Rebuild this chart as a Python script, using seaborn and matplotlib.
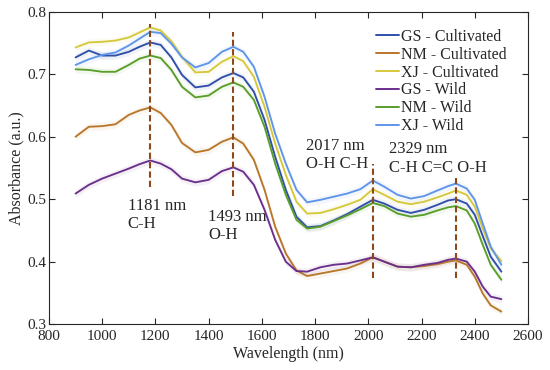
import numpy as np
import pandas as pd
import seaborn as sns
import matplotlib.pyplot as plt

# --- NIR spectra (mean absorbance) ---
wavelength = [900, 950, 1000, 1050, 1100, 1140, 1181, 1220, 1260, 1300, 1350, 1400, 1450, 1493,
              1530, 1570, 1610, 1650, 1690, 1730, 1770, 1820, 1870, 1920, 1970, 2017, 2060, 2110,
              2160, 2210, 2260, 2300, 2329, 2370, 2400, 2430, 2460, 2500]

gs_cultivated = [0.727, 0.738, 0.730, 0.730, 0.736, 0.744, 0.751, 0.747, 0.727, 0.699, 0.679, 0.682, 0.695, 0.702,
                 0.695, 0.672, 0.627, 0.568, 0.515, 0.472, 0.455, 0.457, 0.466, 0.476, 0.488, 0.499, 0.493, 0.483,
                 0.478, 0.483, 0.491, 0.498, 0.500, 0.493, 0.475, 0.441, 0.408, 0.384]
nm_cultivated = [0.600, 0.616, 0.617, 0.620, 0.635, 0.642, 0.647, 0.638, 0.619, 0.590, 0.575, 0.579, 0.592, 0.599,
                 0.589, 0.563, 0.515, 0.456, 0.413, 0.386, 0.377, 0.381, 0.385, 0.389, 0.397, 0.407, 0.400, 0.392,
                 0.391, 0.393, 0.396, 0.400, 0.402, 0.395, 0.376, 0.349, 0.330, 0.320]
xj_cultivated = [0.743, 0.751, 0.752, 0.754, 0.759, 0.767, 0.775, 0.770, 0.753, 0.728, 0.703, 0.704, 0.720, 0.729,
                 0.721, 0.696, 0.648, 0.589, 0.539, 0.496, 0.477, 0.478, 0.484, 0.491, 0.499, 0.516, 0.507, 0.496,
                 0.492, 0.496, 0.503, 0.509, 0.514, 0.507, 0.488, 0.453, 0.421, 0.401]
gs_wild = [0.509, 0.523, 0.533, 0.541, 0.549, 0.556, 0.562, 0.557, 0.548, 0.533, 0.527, 0.531, 0.545, 0.551,
           0.544, 0.523, 0.483, 0.435, 0.400, 0.385, 0.384, 0.391, 0.395, 0.397, 0.402, 0.407, 0.400, 0.392,
           0.391, 0.395, 0.398, 0.403, 0.405, 0.400, 0.384, 0.360, 0.344, 0.340]
nm_wild = [0.708, 0.707, 0.704, 0.704, 0.715, 0.725, 0.730, 0.726, 0.707, 0.680, 0.663, 0.666, 0.680, 0.687,
           0.680, 0.659, 0.616, 0.557, 0.507, 0.467, 0.453, 0.456, 0.465, 0.474, 0.484, 0.494, 0.489, 0.477,
           0.472, 0.475, 0.482, 0.487, 0.489, 0.482, 0.461, 0.427, 0.395, 0.371]
xj_wild = [0.715, 0.724, 0.731, 0.735, 0.746, 0.757, 0.768, 0.766, 0.749, 0.727, 0.711, 0.718, 0.736, 0.744,
           0.736, 0.712, 0.664, 0.605, 0.557, 0.515, 0.495, 0.499, 0.504, 0.509, 0.516, 0.530, 0.520, 0.507,
           0.501, 0.505, 0.514, 0.521, 0.525, 0.517, 0.499, 0.461, 0.424, 0.395]

labels = ["GS - Cultivated", "NM - Cultivated", "XJ - Cultivated", "GS - Wild", "NM - Wild", "XJ - Wild"]
colors = ["#2f4fa8", "#b8772a", "#d6c83c", "#6b2f8c", "#5a9e2a", "#5f95e8"]
series = [gs_cultivated, nm_cultivated, xj_cultivated, gs_wild, nm_wild, xj_wild]

# characteristic bands
band_nm = [1181, 1493, 2017, 2329]
band_low = [0.520, 0.505, 0.374, 0.374]
band_high = [0.781, 0.768, 0.556, 0.535]
band_text = ["1181 nm\nC-H", "1493 nm\nO-H", "2017 nm\nO-H C-H", "2329 nm\nC-H C=C O-H"]
text_x = [1096, 1399, 1765, 2078]
text_y = [0.502, 0.485, 0.598, 0.593]

df = pd.concat([pd.DataFrame({"Wavelength": wavelength, "Absorbance": s, "Sample": lab})
                for s, lab in zip(series, labels)], ignore_index=True)

# --- Plotting ---
sns.set_style("ticks")
plt.rcParams['font.family'] = ['Liberation Serif', 'DejaVu Serif']
plt.rcParams['lines.solid_joinstyle'] = 'round'

fig = plt.figure(figsize=(5.5, 3.7), dpi=100)
ax = fig.add_axes([0.089, 0.124, 0.871, 0.844])

# faint spread bands around each mean spectrum
for s, c in zip(series, colors):
    s = np.asarray(s)
    ax.fill_between(wavelength, s - 0.006, s + 0.006, color=c, alpha=0.07, lw=0)

sns.lineplot(data=df, x="Wavelength", y="Absorbance", hue="Sample", hue_order=labels,
             palette=colors, linewidth=1.35, sort=False, estimator=None, ax=ax)

ax.vlines(band_nm, band_low, band_high, colors="#8c4a1c", linestyles=(0, (3, 1.5)), linewidth=1.5)
for x, y, t in zip(text_x, text_y, band_text):
    ax.text(x, y, t, ha="left", va="top", fontsize=12, linespacing=1.2)

ax.set_xlim(800, 2600)
ax.set_ylim(0.3, 0.8)
ax.set_xticks(np.arange(800, 2601, 200))
ax.set_yticks([0.3, 0.4, 0.5, 0.6, 0.7, 0.8])
ax.tick_params(direction="in", top=True, right=True, length=4, width=0.8,
               labelsize=11, colors="#262626", pad=2)
ax.tick_params(axis="x", pad=4.5)
for sp in ax.spines.values():
    sp.set_color("#262626")
    sp.set_linewidth(0.8)
ax.set_xlabel("Wavelength (nm)", fontsize=11.5, labelpad=2)
ax.set_ylabel("Absorbance (a.u.)", fontsize=11.5, labelpad=2)

leg = ax.legend(loc="upper left", bbox_to_anchor=(0.683, 0.946), frameon=False, fontsize=11.5,
                handlelength=1.45, handletextpad=0.1, labelspacing=0.12, borderpad=0, borderaxespad=0)
for line in leg.get_lines():
    line.set_linewidth(1.4)

plt.savefig("out.png", dpi=100)
